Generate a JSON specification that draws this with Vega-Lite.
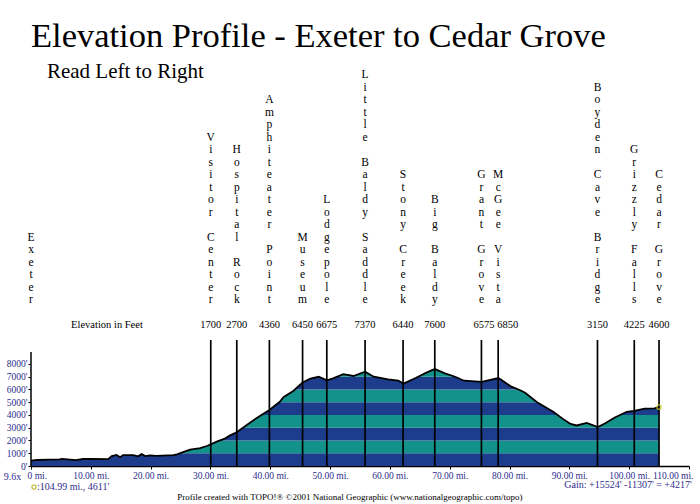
{
  "$schema": "https://vega.github.io/schema/vega-lite/v6.json",
  "width": 658,
  "height": 406,
  "autosize": {"type": "none"},
  "padding": {"left": 31, "top": 60, "right": 11, "bottom": 38},
  "background": "white",
  "config": {"view": {"stroke": null}, "font": "Liberation Serif"},
  "title": {
    "text": "Elevation Profile - Exeter to Cedar Grove",
    "anchor": "start",
    "frame": "group",
    "font": "Liberation Serif",
    "fontSize": 34.5,
    "fontWeight": "normal",
    "color": "black",
    "offset": 6
  },
  "data": {
    "values": [
      {"mile": 0, "elev": 420}, {"mile": 1, "elev": 470}, {"mile": 3, "elev": 500},
      {"mile": 4.8, "elev": 520}, {"mile": 5.2, "elev": 560}, {"mile": 7.5, "elev": 460},
      {"mile": 8.7, "elev": 550}, {"mile": 10, "elev": 560}, {"mile": 12.9, "elev": 540},
      {"mile": 13.5, "elev": 780}, {"mile": 14.3, "elev": 870}, {"mile": 14.9, "elev": 690},
      {"mile": 15.4, "elev": 860}, {"mile": 17.1, "elev": 860}, {"mile": 17.9, "elev": 760},
      {"mile": 18.5, "elev": 930}, {"mile": 19.1, "elev": 780}, {"mile": 19.9, "elev": 830},
      {"mile": 21, "elev": 800}, {"mile": 23.8, "elev": 860}, {"mile": 24.4, "elev": 920},
      {"mile": 25.2, "elev": 1050}, {"mile": 26.6, "elev": 1280}, {"mile": 28.3, "elev": 1400},
      {"mile": 29.4, "elev": 1570}, {"mile": 30.05, "elev": 1700}, {"mile": 31.05, "elev": 1910},
      {"mile": 32.4, "elev": 2150}, {"mile": 33.3, "elev": 2400}, {"mile": 34.4, "elev": 2650},
      {"mile": 36.6, "elev": 3400}, {"mile": 38.2, "elev": 3900}, {"mile": 39.85, "elev": 4400},
      {"mile": 41.6, "elev": 5040}, {"mile": 42.2, "elev": 5400}, {"mile": 43.9, "elev": 5900},
      {"mile": 45.4, "elev": 6550}, {"mile": 46.7, "elev": 6850}, {"mile": 48.1, "elev": 7000},
      {"mile": 49.45, "elev": 6720}, {"mile": 50.5, "elev": 6880}, {"mile": 52.2, "elev": 7200},
      {"mile": 53.9, "elev": 7060}, {"mile": 55.85, "elev": 7400}, {"mile": 57.3, "elev": 7000},
      {"mile": 59.7, "elev": 6800}, {"mile": 61.4, "elev": 6700}, {"mile": 62.26, "elev": 6460},
      {"mile": 64.3, "elev": 6900}, {"mile": 66.1, "elev": 7320}, {"mile": 67.5, "elev": 7600},
      {"mile": 69.2, "elev": 7270}, {"mile": 70.9, "elev": 7000}, {"mile": 72.4, "elev": 6690},
      {"mile": 75.35, "elev": 6600}, {"mile": 78.15, "elev": 6900}, {"mile": 80.3, "elev": 6220},
      {"mile": 81.7, "elev": 5960}, {"mile": 82.6, "elev": 5750}, {"mile": 84.6, "elev": 5000},
      {"mile": 86.8, "elev": 4390}, {"mile": 87.3, "elev": 4260}, {"mile": 89.2, "elev": 3600},
      {"mile": 90.2, "elev": 3300}, {"mile": 91.2, "elev": 3180}, {"mile": 92.9, "elev": 3380},
      {"mile": 94.77, "elev": 3050}, {"mile": 96, "elev": 3350}, {"mile": 97.6, "elev": 3800},
      {"mile": 99.6, "elev": 4250}, {"mile": 100.84, "elev": 4330}, {"mile": 102.6, "elev": 4500},
      {"mile": 104.2, "elev": 4520}, {"mile": 104.99, "elev": 4611}
    ]
  },
  "datasets": {
    "waypoints": [
      {"place": "Exeter", "mile": 0, "elev": null, "stack": "E\nx\ne\nt\ne\nr"},
      {"place": "Visitor Center", "mile": 30.05, "elev": 1700, "stack": "V\ni\ns\ni\nt\no\nr\n\u2800\nC\ne\nn\nt\ne\nr"},
      {"place": "Hospital Rock", "mile": 34.4, "elev": 2700, "stack": "H\no\ns\np\ni\nt\na\nl\n\u2800\nR\no\nc\nk"},
      {"place": "Amphitheater Point", "mile": 39.85, "elev": 4360, "stack": "A\nm\np\nh\ni\nt\ne\na\nt\ne\nr\n\u2800\nP\no\ni\nn\nt"},
      {"place": "Museum", "mile": 45.4, "elev": 6450, "stack": "M\nu\ns\ne\nu\nm"},
      {"place": "Lodgepole", "mile": 49.45, "elev": 6675, "stack": "L\no\nd\ng\ne\np\no\nl\ne"},
      {"place": "Little Baldy Saddle", "mile": 55.85, "elev": 7370, "stack": "L\ni\nt\nt\nl\ne\n\u2800\nB\na\nl\nd\ny\n\u2800\nS\na\nd\nd\nl\ne"},
      {"place": "Stony Creek", "mile": 62.2, "elev": 6440, "stack": "S\nt\no\nn\ny\n\u2800\nC\nr\ne\ne\nk"},
      {"place": "Big Baldy", "mile": 67.5, "elev": 7600, "stack": "B\ni\ng\n\u2800\nB\na\nl\nd\ny"},
      {"place": "Grant Grove", "mile": 75.3, "elev": 6575, "stack": "G\nr\na\nn\nt\n\u2800\nG\nr\no\nv\ne"},
      {"place": "McGee Vista", "mile": 78.1, "elev": 6850, "stack": "M\nc\nG\ne\ne\n\u2800\nV\ni\ns\nt\na"},
      {"place": "Boyden Cave Bridge", "mile": 94.7, "elev": 3150, "stack": "B\no\ny\nd\ne\nn\n\u2800\nC\na\nv\ne\n\u2800\nB\nr\ni\nd\ng\ne"},
      {"place": "Grizzly Falls", "mile": 100.85, "elev": 4225, "stack": "G\nr\ni\nz\nz\nl\ny\n\u2800\nF\na\nl\nl\ns"},
      {"place": "Cedar Grove", "mile": 104.99, "elev": 4600, "stack": "C\ne\nd\na\nr\n\u2800\nG\nr\no\nv\ne"}
    ],
    "bands": [
      {"lo": 0, "hi": 1000, "shade": "dark"}, {"lo": 1000, "hi": 2000, "shade": "teal"},
      {"lo": 2000, "hi": 3000, "shade": "dark"}, {"lo": 3000, "hi": 4000, "shade": "teal"},
      {"lo": 4000, "hi": 5000, "shade": "dark"}, {"lo": 5000, "hi": 6000, "shade": "teal"},
      {"lo": 6000, "hi": 7000, "shade": "dark"}, {"lo": 7000, "hi": 8000, "shade": "teal"}
    ]
  },
  "layer": [
    {
      "data": {"name": "bands"},
      "mark": {"type": "rect"},
      "encoding": {
        "x": {"datum": 0, "type": "quantitative",
          "scale": {"domain": [0, 110], "nice": false, "zero": true},
          "axis": {
            "title": null, "values": [0, 10, 20, 30, 40, 50, 60, 70, 80, 90, 100, 110],
            "labelExpr": "datum.value == 0 ? '0 mi.' : format(datum.value, '.2f') + ' mi.'",
            "labelFont": "Liberation Serif", "labelFontSize": 9.5, "labelColor": "#2d2d8c",
            "labelOverlap": false,
            "tickSize": 3, "tickColor": "black", "domainColor": "black", "domainWidth": 1.5,
            "grid": false, "labelPadding": 1, "labelFlush": true, "labelFlushOffset": 4
          }},
        "x2": {"datum": 104.99},
        "y": {"field": "lo", "type": "quantitative", "title": null,
          "scale": {"domain": [0, 31843], "nice": false, "zero": true},
          "axis": {
            "title": null, "values": [0, 1000, 2000, 3000, 4000, 5000, 6000, 7000, 8000],
            "labelExpr": "datum.value + \"'\"",
            "labelFont": "Liberation Serif", "labelFontSize": 9.5, "labelColor": "#2d2d8c",
            "labelOverlap": false,
            "tickSize": 3, "tickColor": "black", "domain": false, "grid": false, "labelPadding": 1
          }},
        "y2": {"field": "hi"},
        "color": {"field": "shade", "type": "nominal", "legend": null,
          "scale": {"domain": ["dark", "teal"], "range": ["#1e3c8c", "#12928a"]}}
      }
    },
    {
      "mark": {"type": "area", "color": "white", "opacity": 1},
      "encoding": {
        "x": {"field": "mile", "type": "quantitative", "title": null},
        "y": {"field": "elev", "type": "quantitative", "title": null},
        "y2": {"datum": 8000}
      }
    },
    {
      "mark": {"type": "line", "color": "black", "strokeWidth": 1.8},
      "encoding": {
        "x": {"field": "mile", "type": "quantitative", "title": null},
        "y": {"field": "elev", "type": "quantitative", "title": null}
      }
    },
    {
      "data": {"name": "waypoints"},
      "transform": [{"filter": "datum.mile > 0"}],
      "mark": {"type": "rule", "color": "black", "strokeWidth": 1.7},
      "encoding": {
        "x": {"field": "mile", "type": "quantitative", "title": null},
        "y": {"datum": 0, "type": "quantitative"},
        "y2": {"datum": 9880}
      }
    },
    {
      "data": {"values": [{"axis": "elevation"}]},
      "mark": {"type": "rule", "color": "black", "strokeWidth": 1.5},
      "encoding": {
        "x": {"datum": 0, "type": "quantitative"},
        "y": {"datum": 0, "type": "quantitative"},
        "y2": {"datum": 8950}
      }
    },
    {
      "data": {"values": [{"mile": 104.99, "elev": 4611}]},
      "mark": {"type": "point", "shape": "circle", "filled": false, "color": "#c9c41e", "size": 18, "strokeWidth": 1.5},
      "encoding": {
        "x": {"field": "mile", "type": "quantitative", "title": null},
        "y": {"field": "elev", "type": "quantitative", "title": null}
      }
    },
    {
      "data": {"name": "waypoints"},
      "mark": {"type": "text", "align": "center", "baseline": "alphabetic", "lineBreak": "\n", "lineHeight": 12.5, "fontSize": 11.5, "font": "Liberation Serif", "color": "black",
        "dy": {"expr": "-(length(split(datum.stack, '\\n')) - 1) * 12.5"}},
      "encoding": {
        "x": {"field": "mile", "type": "quantitative", "title": null},
        "y": {"datum": 12780, "type": "quantitative"},
        "text": {"field": "stack", "type": "nominal"}
      }
    },
    {
      "data": {"name": "waypoints"},
      "transform": [{"filter": "datum.elev != null && datum.place != 'Grant Grove' && datum.place != 'McGee Vista'"}],
      "mark": {"type": "text", "align": "center", "baseline": "middle", "fontSize": 10.5, "font": "Liberation Serif", "color": "black"},
      "encoding": {
        "x": {"field": "mile", "type": "quantitative", "title": null},
        "y": {"datum": 11059, "type": "quantitative"},
        "text": {"field": "elev", "type": "quantitative", "format": "d"}
      }
    },
    {
      "data": {"name": "waypoints"},
      "transform": [{"filter": "datum.place == 'Grant Grove'"}],
      "mark": {"type": "text", "align": "right", "baseline": "middle", "dx": 13, "fontSize": 10.5, "font": "Liberation Serif", "color": "black"},
      "encoding": {
        "x": {"field": "mile", "type": "quantitative", "title": null},
        "y": {"datum": 11059, "type": "quantitative"},
        "text": {"field": "elev", "type": "quantitative", "format": "d"}
      }
    },
    {
      "data": {"name": "waypoints"},
      "transform": [{"filter": "datum.place == 'McGee Vista'"}],
      "mark": {"type": "text", "align": "left", "baseline": "middle", "dx": -1, "fontSize": 10.5, "font": "Liberation Serif", "color": "black"},
      "encoding": {
        "x": {"field": "mile", "type": "quantitative", "title": null},
        "y": {"datum": 11059, "type": "quantitative"},
        "text": {"field": "elev", "type": "quantitative", "format": "d"}
      }
    },
    {
      "data": {"values": [{"note": "Elevation in Feet"}]},
      "mark": {"type": "text", "align": "center", "baseline": "middle", "fontSize": 10.5, "font": "Liberation Serif", "color": "black"},
      "encoding": {
        "x": {"datum": 12.7, "type": "quantitative"},
        "y": {"datum": 11059, "type": "quantitative"},
        "text": {"field": "note", "type": "nominal"}
      }
    },
    {
      "data": {"values": [{"note": "Read Left to Right"}]},
      "mark": {"type": "text", "align": "left", "baseline": "alphabetic", "fontSize": 21, "font": "Liberation Serif", "color": "black"},
      "encoding": {
        "x": {"datum": 2.67, "type": "quantitative"},
        "y": {"datum": 30431, "type": "quantitative"},
        "text": {"field": "note", "type": "nominal"}
      }
    },
    {
      "data": {"values": [{"note": "9.6x"}]},
      "mark": {"type": "text", "align": "center", "baseline": "middle", "fontSize": 10, "font": "Liberation Serif", "color": "#2d2d8c"},
      "encoding": {
        "x": {"datum": -3.1, "type": "quantitative"},
        "y": {"datum": -840, "type": "quantitative"},
        "text": {"field": "note", "type": "nominal"}
      }
    },
    {
      "data": {"values": [{"note": "cursor"}]},
      "mark": {"type": "point", "shape": "circle", "filled": false, "color": "#b8b41e", "size": 16, "strokeWidth": 1.6},
      "encoding": {
        "x": {"datum": 0.5, "type": "quantitative"},
        "y": {"datum": -1647, "type": "quantitative"}
      }
    },
    {
      "data": {"values": [{"note": ":104.99 mi., 4611'"}]},
      "mark": {"type": "text", "align": "left", "baseline": "middle", "fontSize": 10, "font": "Liberation Serif", "color": "#2d2d8c"},
      "encoding": {
        "x": {"datum": 1.0, "type": "quantitative"},
        "y": {"datum": -1647, "type": "quantitative"},
        "text": {"field": "note", "type": "nominal"}
      }
    },
    {
      "data": {"values": [{"note": "Gain: +15524' -11307' = +4217'"}]},
      "mark": {"type": "text", "align": "right", "baseline": "middle", "fontSize": 10, "font": "Liberation Serif", "color": "#2d2d8c"},
      "encoding": {
        "x": {"datum": 110.47, "type": "quantitative"},
        "y": {"datum": -1490, "type": "quantitative"},
        "text": {"field": "note", "type": "nominal"}
      }
    },
    {
      "data": {"values": [{"note": "Profile created with TOPO!® ©2001 National Geographic (www.nationalgeographic.com/topo)"}]},
      "mark": {"type": "text", "align": "center", "baseline": "middle", "fontSize": 9, "font": "Liberation Serif", "color": "black"},
      "encoding": {
        "x": {"datum": 53.3, "type": "quantitative"},
        "y": {"datum": -2431, "type": "quantitative"},
        "text": {"field": "note", "type": "nominal"}
      }
    }
  ]
}
